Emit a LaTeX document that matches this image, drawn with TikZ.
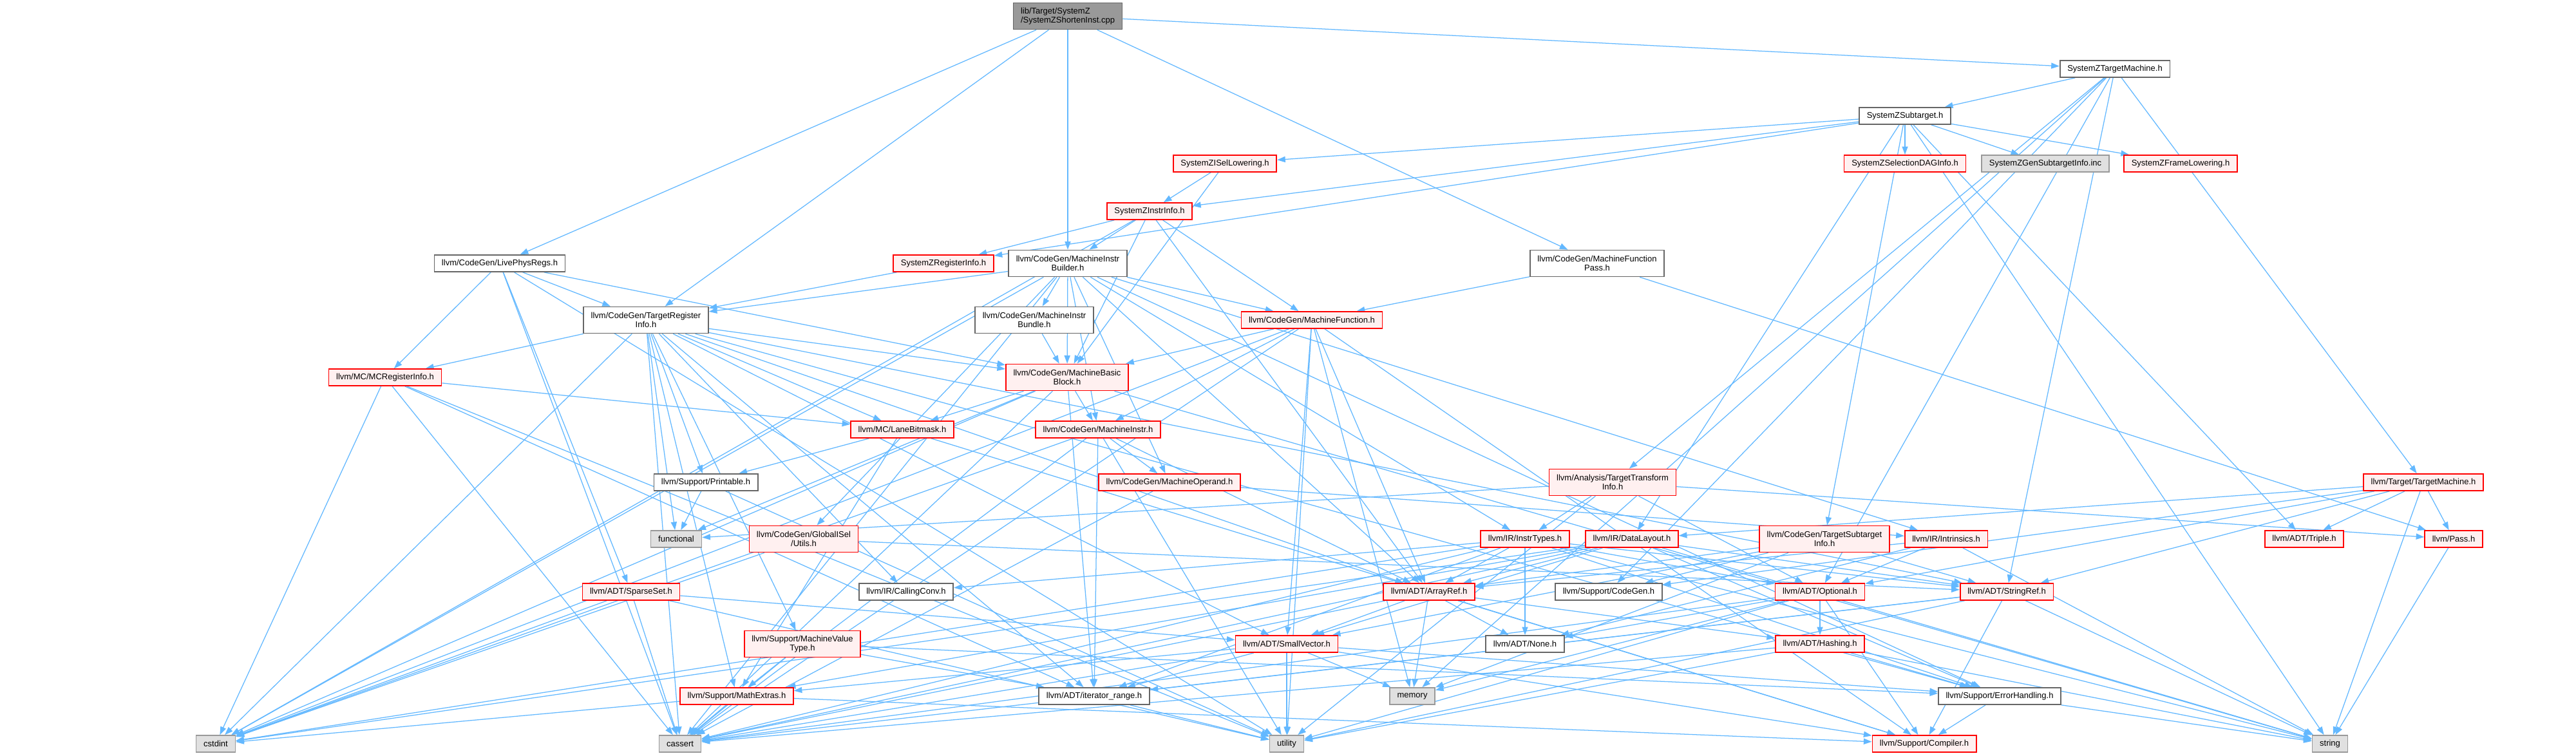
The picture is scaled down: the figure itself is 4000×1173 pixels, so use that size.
\documentclass[tikz,border=0pt]{standalone}
\usepackage{fontspec}
\setmainfont{Liberation Sans}
\usetikzlibrary{arrows.meta,backgrounds}
\definecolor{edgeblue}{HTML}{63B8FF}
\definecolor{redfill}{HTML}{FFF0F0}
\definecolor{grayfill}{HTML}{E0E0E0}
\tikzset{
  incbox/.style={draw, line width=1.2pt, font=\fontsize{9.25}{10.2}\selectfont,
    inner xsep=0.29cm, inner ysep=0.08cm, minimum height=0.65cm, align=center},
  redbox/.style={incbox, draw=red, fill=redfill},
  whitebox/.style={incbox, draw=black!60, fill=white},
  graybox/.style={incbox, draw=black!40, fill=grayfill},
  mainbox/.style={incbox, draw=black!60, fill=black!40, align=left},
  twoline/.style={minimum height=1.025cm},
  dep/.style={draw=edgeblue, line width=0.9pt, -{Triangle[length=9pt,width=6.5pt]}}
}
\begin{document}
\begin{tikzpicture}[x=0.025cm,y=-0.025cm]
    \useasboundingbox (0,0) rectangle (4000,1173);
    % top rows
    \node[mainbox,twoline] (main) at (1658,25) {lib/Target/SystemZ\\/SystemZShortenInst.cpp};
    \node[whitebox] (stm) at (3284,107) {SystemZTargetMachine.h};
    \node[whitebox] (sub) at (2958,180) {SystemZSubtarget.h};
    \node[redbox] (isel) at (1902,254) {SystemZISelLowering.h};
    \node[redbox] (dag) at (2958,254) {SystemZSelectionDAGInfo.h};
    \node[graybox] (gen) at (3176,254) {SystemZGenSubtargetInfo.inc};
    \node[redbox] (frame) at (3386,254) {SystemZFrameLowering.h};
    \node[redbox] (instrinfo) at (1785,328) {SystemZInstrInfo.h};
    \node[whitebox] (lpr) at (776,409) {llvm/CodeGen/LivePhysRegs.h};
    \node[redbox] (reginfo) at (1465,409) {SystemZRegisterInfo.h};
    \node[whitebox,twoline] (mib) at (1658,409) {llvm/CodeGen/MachineInstr\\Builder.h};
    \node[whitebox,twoline] (mfp) at (2480,409) {llvm/CodeGen/MachineFunction\\Pass.h};
    % codegen rows
    \node[whitebox,twoline] (tri) at (1003,497) {llvm/CodeGen/TargetRegister\\Info.h};
    \node[whitebox,twoline] (bundle) at (1606,497) {llvm/CodeGen/MachineInstr\\Bundle.h};
    \node[redbox] (mf) at (2037,497) {llvm/CodeGen/MachineFunction.h};
    \node[redbox] (mcri) at (598,586) {llvm/MC/MCRegisterInfo.h};
    \node[redbox,twoline] (mbb) at (1657,586) {llvm/CodeGen/MachineBasic\\Block.h};
    \node[redbox] (lane) at (1401,667) {llvm/MC/LaneBitmask.h};
    \node[redbox] (mi) at (1705,667) {llvm/CodeGen/MachineInstr.h};
    \node[whitebox] (printable) at (1096,749) {llvm/Support/Printable.h};
    \node[redbox] (mo) at (1816,749) {llvm/CodeGen/MachineOperand.h};
    \node[redbox,twoline] (tti) at (2504,749) {llvm/Analysis/TargetTransform\\Info.h};
    \node[redbox] (tm) at (3763,749) {llvm/Target/TargetMachine.h};
    % lower rows
    \node[graybox] (functional) at (1050,837) {functional};
    \node[redbox,twoline] (gisel) at (1248,837) {llvm/CodeGen/GlobalISel\\/Utils.h};
    \node[redbox] (instrtypes) at (2368,837) {llvm/IR/InstrTypes.h};
    \node[redbox] (datalayout) at (2534,837) {llvm/IR/DataLayout.h};
    \node[redbox,twoline] (tsi) at (2833,837) {llvm/CodeGen/TargetSubtarget\\Info.h};
    \node[redbox] (intrinsics) at (3022,837) {llvm/IR/Intrinsics.h};
    \node[redbox] (triple) at (3578,837) {llvm/ADT/Triple.h};
    \node[redbox] (pass) at (3810,837) {llvm/Pass.h};
    \node[redbox] (sparseset) at (980,919) {llvm/ADT/SparseSet.h};
    \node[whitebox] (callingconv) at (1407,919) {llvm/IR/CallingConv.h};
    \node[redbox] (arrayref) at (2219,919) {llvm/ADT/ArrayRef.h};
    \node[whitebox] (cgen) at (2498,919) {llvm/Support/CodeGen.h};
    \node[redbox] (optional) at (2826,919) {llvm/ADT/Optional.h};
    \node[redbox] (stringref) at (3116,919) {llvm/ADT/StringRef.h};
    \node[redbox,twoline] (mvt) at (1246,1000) {llvm/Support/MachineValue\\Type.h};
    \node[redbox] (smallvec) at (1998,1000) {llvm/ADT/SmallVector.h};
    \node[whitebox] (none) at (2368,1000) {llvm/ADT/None.h};
    \node[redbox] (hashing) at (2826,1000) {llvm/ADT/Hashing.h};
    \node[redbox] (mathext) at (1144,1081) {llvm/Support/MathExtras.h};
    \node[whitebox] (iterrange) at (1699,1081) {llvm/ADT/iterator\_range.h};
    \node[graybox] (memory) at (2193,1081) {memory};
    \node[whitebox] (errh) at (3105,1081) {llvm/Support/ErrorHandling.h};
    \node[graybox] (cstdint) at (335,1155) {cstdint};
    \node[graybox] (cassert) at (1056,1155) {cassert};
    \node[graybox] (utility) at (1998,1155) {utility};
    \node[redbox] (compiler) at (2988,1155) {llvm/Support/Compiler.h};
    \node[graybox] (string) at (3618,1155) {string};

    \begin{scope}[on background layer]
    % SystemZShortenInst.cpp
    \draw[dep](main) -- (stm);\draw[dep](main) -- (lpr);\draw[dep](main) -- (mfp);
    \draw[dep](main) -- (mib);\draw[dep](main) -- (tri);
    % SystemZTargetMachine.h
    \draw[dep](stm) -- (sub);\draw[dep](stm) -- (optional);\draw[dep](stm) -- (stringref);
    \draw[dep](stm) -- (tti);\draw[dep](stm) -- (cgen);\draw[dep](stm) -- (tm);
    \draw[dep](stm) -- (memory);
    % SystemZSubtarget.h
    \draw[dep](sub) -- (frame);\draw[dep](sub) -- (isel);\draw[dep](sub) -- (instrinfo);
    \draw[dep](sub) -- (reginfo);\draw[dep](sub) -- (dag);\draw[dep](sub) -- (triple);
    \draw[dep](sub) -- (tsi);\draw[dep](sub) -- (datalayout);\draw[dep](sub) -- (string);
    \draw[dep](sub) -- (gen);
    % SystemZ lowering, instr, reg info
    \draw[dep](isel) -- (instrinfo);\draw[dep](isel) -- (mbb);
    \draw[dep](instrinfo) -- (reginfo);\draw[dep](instrinfo) -- (arrayref);\draw[dep](instrinfo) -- (mbb);
    \draw[dep](instrinfo) -- (mf);\draw[dep](instrinfo) -- (mib);\draw[dep](instrinfo) -- (cstdint);
    \draw[dep](reginfo) -- (tri);
    % MachineInstrBuilder.h
    \draw[dep](mib) -- (arrayref);\draw[dep](mib) -- (gisel);\draw[dep](mib) -- (mbb);
    \draw[dep](mib) -- (mf);\draw[dep](mib) -- (mi);\draw[dep](mib) -- (bundle);
    \draw[dep](mib) -- (mo);\draw[dep](mib) -- (tri);\draw[dep](mib) -- (instrtypes);
    \draw[dep](mib) -- (intrinsics);\draw[dep](mib) -- (errh);\draw[dep](mib) -- (cassert);
    \draw[dep](mib) -- (cstdint);
    % MachineFunctionPass.h, LivePhysRegs.h
    \draw[dep](mfp) -- (mf);\draw[dep](mfp) -- (pass);
    \draw[dep](lpr) -- (sparseset);\draw[dep](lpr) -- (mbb);\draw[dep](lpr) -- (tri);
    \draw[dep](lpr) -- (mcri);\draw[dep](lpr) -- (cassert);\draw[dep](lpr) -- (utility);
    % TargetRegisterInfo.h
    \draw[dep](tri) -- (arrayref);\draw[dep](tri) -- (smallvec);\draw[dep](tri) -- (stringref);
    \draw[dep](tri) -- (iterrange);\draw[dep](tri) -- (mbb);\draw[dep](tri) -- (callingconv);
    \draw[dep](tri) -- (lane);\draw[dep](tri) -- (mcri);\draw[dep](tri) -- (errh);
    \draw[dep](tri) -- (mvt);\draw[dep](tri) -- (mathext);\draw[dep](tri) -- (printable);
    \draw[dep](tri) -- (cassert);\draw[dep](tri) -- (cstdint);\draw[dep](tri) -- (functional);
    % MCRegisterInfo.h, MachineInstrBundle.h
    \draw[dep](mcri) -- (iterrange);\draw[dep](mcri) -- (lane);\draw[dep](mcri) -- (cassert);
    \draw[dep](mcri) -- (cstdint);\draw[dep](mcri) -- (utility);
    \draw[dep](bundle) -- (mbb);
    % MachineFunction.h
    \draw[dep](mf) -- (arrayref);\draw[dep](mf) -- (smallvec);\draw[dep](mf) -- (mbb);
    \draw[dep](mf) -- (mi);\draw[dep](mf) -- (compiler);\draw[dep](mf) -- (cassert);
    \draw[dep](mf) -- (cstdint);\draw[dep](mf) -- (memory);\draw[dep](mf) -- (utility);
    % MachineBasicBlock.h
    \draw[dep](mbb) -- (iterrange);\draw[dep](mbb) -- (mi);\draw[dep](mbb) -- (lane);
    \draw[dep](mbb) -- (cassert);\draw[dep](mbb) -- (cstdint);\draw[dep](mbb) -- (functional);
    \draw[dep](mbb) -- (string);
    % LaneBitmask.h, Printable.h
    \draw[dep](lane) -- (compiler);\draw[dep](lane) -- (mathext);\draw[dep](lane) -- (printable);
    \draw[dep](printable) -- (functional);\draw[dep](printable) -- (utility);
    % MachineInstr.h, MachineOperand.h
    \draw[dep](mi) -- (iterrange);\draw[dep](mi) -- (mo);\draw[dep](mi) -- (arrayref);
    \draw[dep](mi) -- (cassert);\draw[dep](mi) -- (cstdint);\draw[dep](mi) -- (utility);
    \draw[dep](mo) -- (intrinsics);\draw[dep](mo) -- (cassert);
    % TargetTransformInfo.h, TargetMachine.h
    \draw[dep](tti) -- (instrtypes);\draw[dep](tti) -- (pass);\draw[dep](tti) -- (functional);
    \draw[dep](tti) -- (optional);\draw[dep](tti) -- (utility);
    \draw[dep](tm) -- (optional);\draw[dep](tm) -- (stringref);\draw[dep](tm) -- (triple);
    \draw[dep](tm) -- (datalayout);\draw[dep](tm) -- (cgen);\draw[dep](tm) -- (pass);
    \draw[dep](tm) -- (string);
    % GlobalISel/Utils.h, InstrTypes.h
    \draw[dep](gisel) -- (stringref);\draw[dep](gisel) -- (cstdint);
    \draw[dep](instrtypes) -- (arrayref);\draw[dep](instrtypes) -- (none);\draw[dep](instrtypes) -- (optional);
    \draw[dep](instrtypes) -- (stringref);\draw[dep](instrtypes) -- (iterrange);\draw[dep](instrtypes) -- (callingconv);
    \draw[dep](instrtypes) -- (errh);\draw[dep](instrtypes) -- (cassert);\draw[dep](instrtypes) -- (cstdint);
    \draw[dep](instrtypes) -- (string);
    % DataLayout.h
    \draw[dep](datalayout) -- (arrayref);\draw[dep](datalayout) -- (smallvec);\draw[dep](datalayout) -- (stringref);
    \draw[dep](datalayout) -- (errh);\draw[dep](datalayout) -- (mathext);\draw[dep](datalayout) -- (cassert);
    \draw[dep](datalayout) -- (cstdint);\draw[dep](datalayout) -- (string);
    % TargetSubtargetInfo.h, Intrinsics.h, Pass.h
    \draw[dep](tsi) -- (arrayref);\draw[dep](tsi) -- (smallvec);\draw[dep](tsi) -- (stringref);
    \draw[dep](tsi) -- (cgen);\draw[dep](tsi) -- (memory);
    \draw[dep](intrinsics) -- (arrayref);\draw[dep](intrinsics) -- (none);\draw[dep](intrinsics) -- (optional);
    \draw[dep](intrinsics) -- (string);
    \draw[dep](pass) -- (string);
    % SparseSet.h, ArrayRef.h
    \draw[dep](sparseset) -- (smallvec);\draw[dep](sparseset) -- (cassert);\draw[dep](sparseset) -- (cstdint);
    \draw[dep](sparseset) -- (utility);
    \draw[dep](arrayref) -- (hashing);\draw[dep](arrayref) -- (none);\draw[dep](arrayref) -- (smallvec);
    \draw[dep](arrayref) -- (compiler);\draw[dep](arrayref) -- (cassert);\draw[dep](arrayref) -- (memory);
    % Optional.h, StringRef.h
    \draw[dep](optional) -- (hashing);\draw[dep](optional) -- (none);\draw[dep](optional) -- (compiler);
    \draw[dep](optional) -- (cassert);\draw[dep](optional) -- (memory);\draw[dep](optional) -- (utility);
    \draw[dep](stringref) -- (iterrange);\draw[dep](stringref) -- (compiler);\draw[dep](stringref) -- (cassert);
    \draw[dep](stringref) -- (string);\draw[dep](stringref) -- (utility);
    % MachineValueType.h, SmallVector.h
    \draw[dep](mvt) -- (iterrange);\draw[dep](mvt) -- (errh);\draw[dep](mvt) -- (mathext);
    \draw[dep](mvt) -- (cassert);
    \draw[dep](smallvec) -- (iterrange);\draw[dep](smallvec) -- (compiler);\draw[dep](smallvec) -- (errh);
    \draw[dep](smallvec) -- (mathext);\draw[dep](smallvec) -- (cassert);\draw[dep](smallvec) -- (memory);
    \draw[dep](smallvec) -- (utility);
    % Hashing.h, MathExtras.h, iterator_range.h, ErrorHandling.h
    \draw[dep](hashing) -- (errh);\draw[dep](hashing) -- (cassert);\draw[dep](hashing) -- (string);
    \draw[dep](hashing) -- (utility);
    \draw[dep](mathext) -- (compiler);\draw[dep](mathext) -- (cassert);\draw[dep](mathext) -- (cstdint);
    \draw[dep](iterrange) -- (utility);
    \draw[dep](errh) -- (compiler);\draw[dep](errh) -- (string);
    \end{scope}
\end{tikzpicture}
\end{document}
